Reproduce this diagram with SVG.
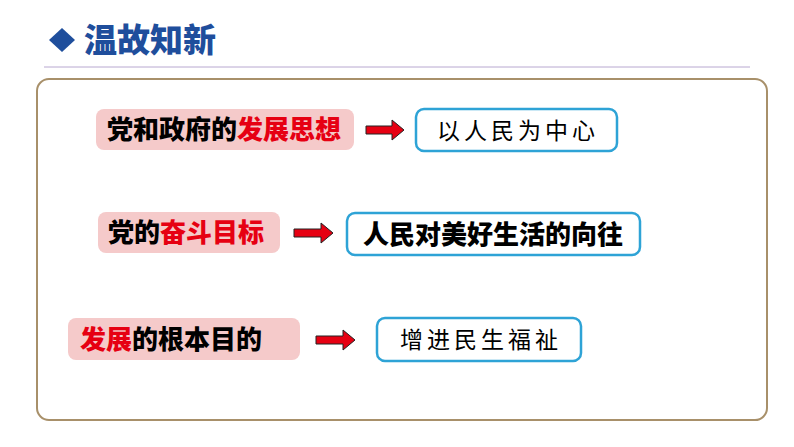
<svg xmlns="http://www.w3.org/2000/svg" width="794" height="447" viewBox="0 0 794 447">
<style>
.t{font-family:"Noto Sans CJK SC",sans-serif;font-weight:900;font-size:26px;fill:#000}
.r{fill:#E60012}
.pk{fill:#F5CACA}
.bl{fill:#fff;stroke:#2EA3D6;stroke-width:2.5}
.ar{fill:#E60012;stroke:#222;stroke-width:1}
.k{font-family:"Noto Sans CJK SC",sans-serif;font-size:23px;fill:#000;letter-spacing:4px}
</style>
<rect width="794" height="447" fill="#fff"/>
<g id="title">
<path d="M62 28 L75 40 L62 52 L49 40 Z" fill="#1F4E9C"/>
<text x="84" y="52" font-family="'Noto Sans CJK SC',sans-serif" font-weight="900" font-size="33" fill="#1F4E9C">温故知新</text>
<line x1="44" y1="67" x2="750" y2="67" stroke="#B8A8D0" stroke-width="1"/>
</g>
<rect x="37" y="79" width="730" height="341" rx="12" fill="#fff" stroke="#A8906A" stroke-width="2"/>
<g id="n1"><rect class="pk" x="96" y="109" width="258" height="41" rx="8"/><text class="t" x="107" y="139">党和政府的<tspan class="r">发展思想</tspan></text></g>
<g id="n2"><rect class="bl" x="416" y="109" width="201" height="42" rx="8"/><text class="k" x="518" y="139" text-anchor="middle">以人民为中心</text></g>
<g id="n3"><rect class="pk" x="98" y="212" width="182" height="41" rx="8"/><text class="t" x="108" y="242">党的<tspan class="r">奋斗目标</tspan></text></g>
<g id="n4"><rect class="bl" x="347" y="213" width="293" height="42" rx="8"/><text class="t" x="493" y="244" text-anchor="middle" font-size="27">人民对美好生活的向往</text></g>
<g id="n5"><rect class="pk" x="68" y="318" width="232" height="42" rx="8"/><text class="t" x="80" y="349"><tspan class="r">发展</tspan>的根本目的</text></g>
<g id="n6"><rect class="bl" x="377" y="318" width="204" height="43" rx="8"/><text class="k" x="481" y="348" text-anchor="middle">增进民生福祉</text></g>
<g id="connectors">
<path class="ar" d="M366 126 H392 V120 L404 130 L392 140 V134 H366 Z"/>
<path class="ar" d="M294 229 H321 V223 L333 233 L321 243 V237 H294 Z"/>
<path class="ar" d="M316 336 H343 V330 L355 340 L343 350 V344 H316 Z"/>
</g>
</svg>
